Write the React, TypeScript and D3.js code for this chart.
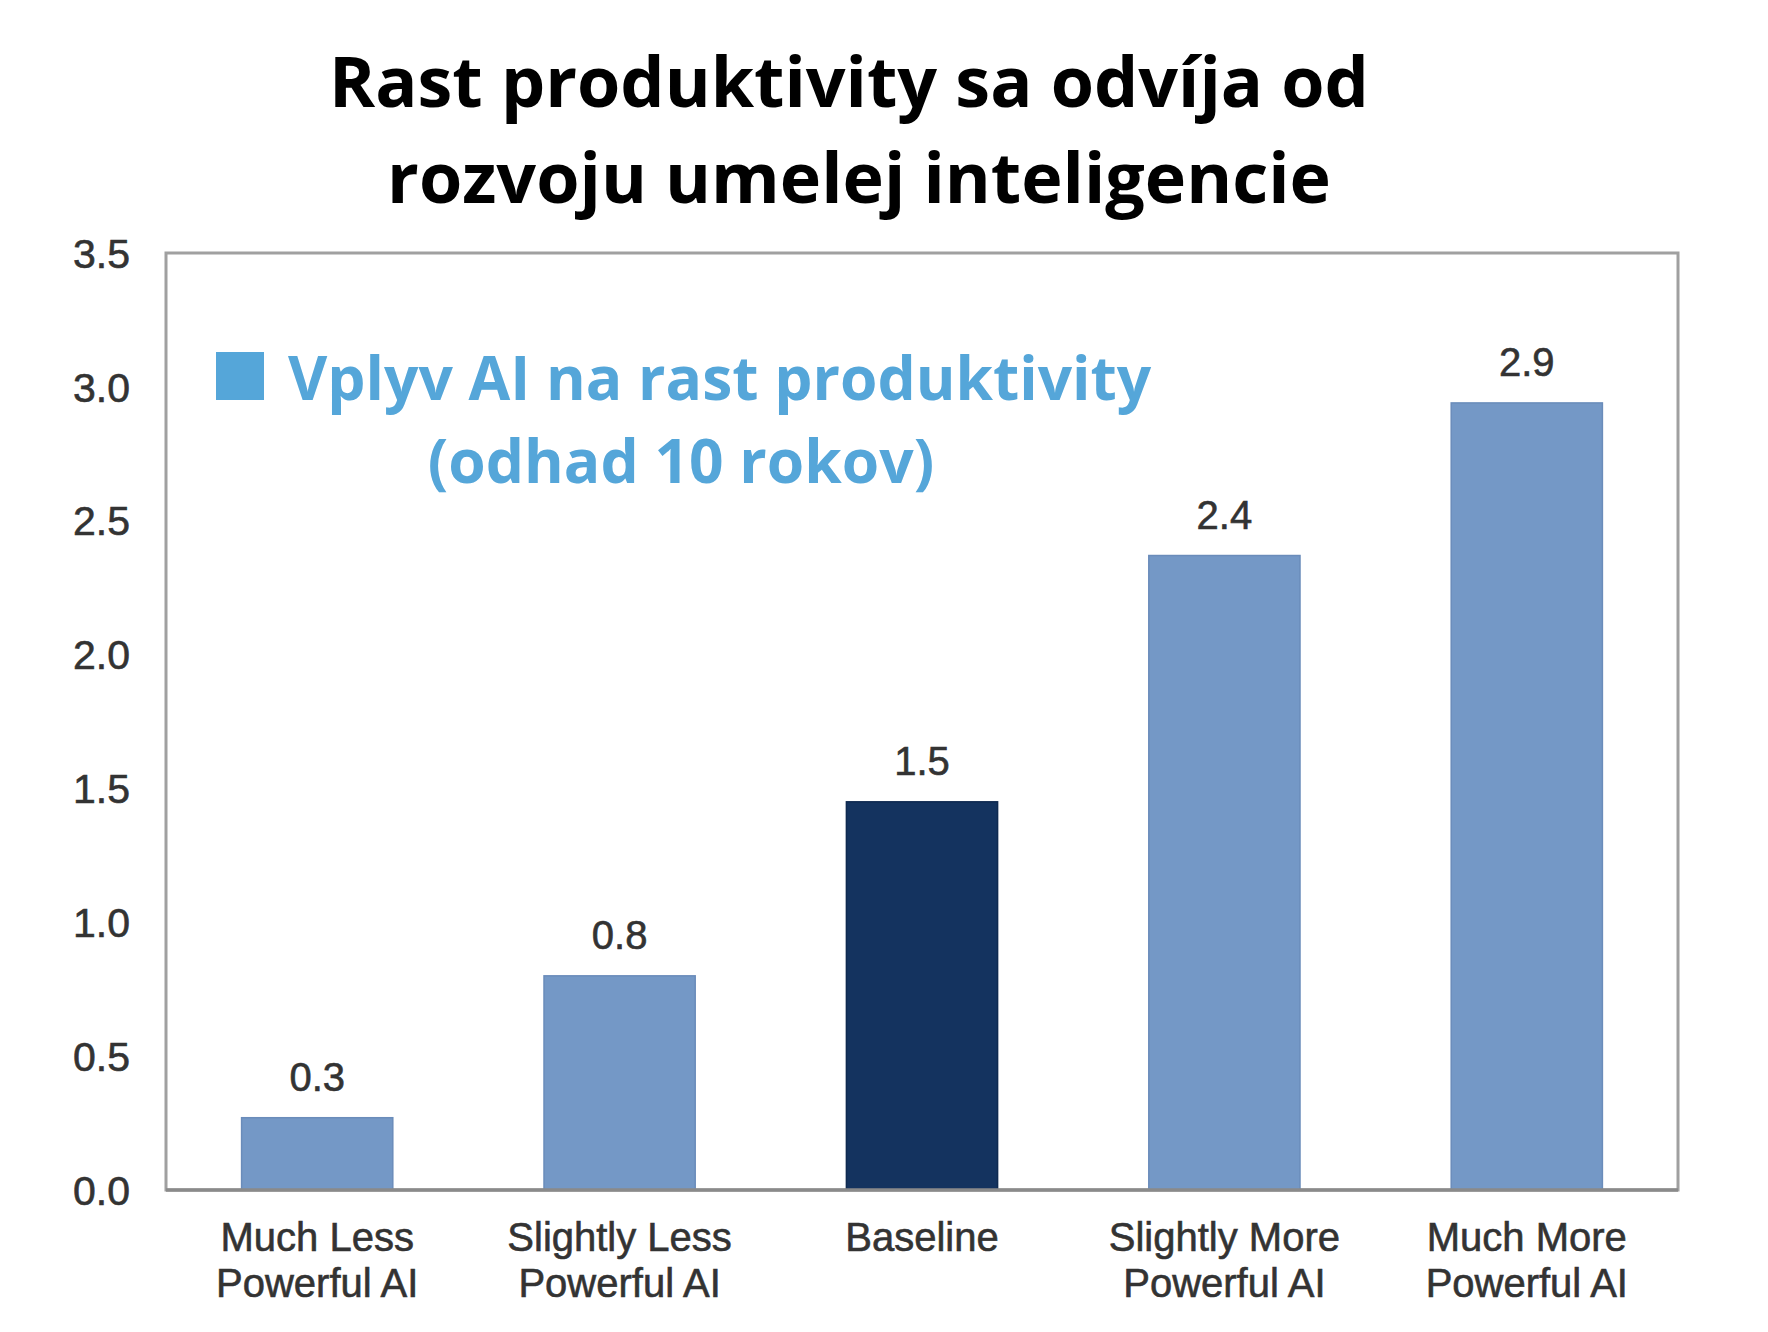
import React from 'react';
import * as d3 from 'd3';

const categories: string[][] = [
  ['Much Less', 'Powerful AI'],
  ['Slightly Less', 'Powerful AI'],
  ['Baseline'],
  ['Slightly More', 'Powerful AI'],
  ['Much More', 'Powerful AI'],
];
const values: number[] = [0.27, 0.8, 1.45, 2.37, 2.94];
const valueLabels: string[] = ['0.3', '0.8', '1.5', '2.4', '2.9'];
const yTicks: number[] = [0, 0.5, 1, 1.5, 2, 2.5, 3, 3.5];
const titleLines: string[] = ['Rast produktivity sa odvíja od', 'rozvoju umelej inteligencie'];
const legendLines: string[] = ['Vplyv AI na rast produktivity', '(odhad 10 rokov)'];

const width = 1768;
const height = 1332;
const margin = { l: 166, r: 90, t: 253, b: 142 };

const barLight = '#7498c6';
const barDark = '#14335f';
const legendBlue = '#55a6d9';
const textGray = '#333';

export default function App() {
  const plotRight = width - margin.r;
  const plotBottom = height - margin.b;

  const x = d3
    .scaleBand<number>()
    .domain(d3.range(values.length))
    .range([margin.l, plotRight])
    .paddingInner(0.5)
    .paddingOuter(0.25);

  const y = d3.scaleLinear().domain([0, 3.5]).range([plotBottom, margin.t]);

  const labelFont = '"Liberation Sans", Arial, sans-serif';
  const boldFont = '"Open Sans", sans-serif';
  // the source labels are a bit heavier than plain regular
  const thicken = { stroke: textGray, strokeWidth: 0.6 };
  const titleX = [849, 859];

  return (
    <svg
      width={width}
      height={height}
      style={{ display: 'block', position: 'absolute', left: 0, top: 0, background: '#fff' }}
    >
      {/* title */}
      {titleLines.map((t, i) => (
        <text
          key={t}
          x={titleX[i]}
          y={107 + i * 96}
          textAnchor="middle"
          fontFamily={boldFont}
          fontWeight={700}
          fontSize={70}
          fill="#000"
        >
          {t}
        </text>
      ))}

      {/* frame */}
      <rect
        x={margin.l}
        y={margin.t}
        width={plotRight - margin.l}
        height={plotBottom - margin.t}
        fill="none"
        stroke="#a0a0a0"
        strokeWidth={3}
      />

      {/* y ticks */}
      {yTicks.map((t) => (
        <text
          key={t}
          x={130}
          y={y(t)}
          dy="0.36em"
          textAnchor="end"
          fontFamily={labelFont}
          fontSize={41}
          fill={textGray}
          {...thicken}
        >
          {t.toFixed(1)}
        </text>
      ))}

      {/* bars */}
      {values.map((v, i) => (
        <g key={i}>
          <rect
            x={x(i)}
            y={y(v)}
            width={x.bandwidth()}
            height={y(0) - y(v)}
            fill={i === 2 ? barDark : barLight}
            stroke={i === 2 ? '#0f2a50' : '#6a8cba'}
            strokeWidth={1.5}
          />
          <text
            x={(x(i) as number) + x.bandwidth() / 2}
            y={y(v) - 27}
            textAnchor="middle"
            fontFamily={labelFont}
            fontSize={40}
            fill={textGray}
            {...thicken}
          >
            {valueLabels[i]}
          </text>
          {categories[i].map((line, j) => (
            <text
              key={line}
              x={(x(i) as number) + x.bandwidth() / 2}
              y={1251 + j * 46}
              textAnchor="middle"
              fontFamily={labelFont}
              fontSize={40}
              fill={textGray}
              {...thicken}
            >
              {line}
            </text>
          ))}
        </g>
      ))}

      {/* baseline axis */}
      <line x1={margin.l} x2={plotRight} y1={y(0)} y2={y(0)} stroke="#8a8a8a" strokeWidth={3.5} />

      {/* legend */}
      <rect x={216} y={352} width={48} height={48} fill={legendBlue} />
      <text x={288} y={400} fontFamily={boldFont} fontWeight={700} fontSize={60.5} fill={legendBlue}>
        {legendLines[0]}
      </text>
      <text
        x={681}
        y={483}
        textAnchor="middle"
        fontFamily={boldFont}
        fontWeight={700}
        fontSize={60.5}
        fill={legendBlue}
      >
        {legendLines[1]}
      </text>
    </svg>
  );
}
